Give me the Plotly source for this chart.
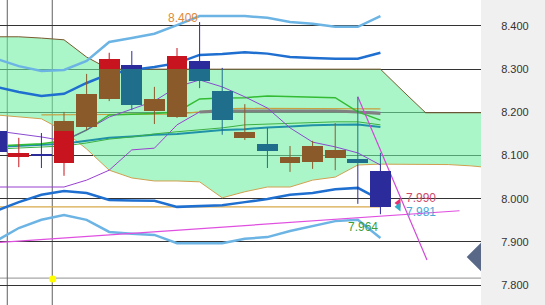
import plotly.graph_objects as go

# ---------------- data ----------------
candle_idx = list(range(18))
opens  = [8.157, 8.097, 8.104, 8.083, 8.166, 8.231, 8.310, 8.203, 8.189, 8.319, 8.249, 8.141, 8.127, 8.083, 8.085, 8.094, 8.092, 8.064]
highs  = [8.171, 8.141, 8.152, 8.201, 8.289, 8.338, 8.342, 8.259, 8.349, 8.409, 8.303, 8.219, 8.164, 8.122, 8.134, 8.175, 8.236, 8.106]
lows   = [8.094, 8.073, 8.071, 8.053, 8.159, 8.226, 8.205, 8.173, 8.187, 8.256, 8.148, 8.136, 8.071, 8.062, 8.069, 8.066, 7.988, 7.964]
closes = [8.108, 8.106, 8.099, 8.180, 8.243, 8.324, 8.217, 8.231, 8.331, 8.273, 8.182, 8.155, 8.110, 8.097, 8.122, 8.113, 8.083, 7.981]

cloud_idx = list(range(23))
span_upper = [8.375, 8.375, 8.372, 8.368, 8.328, 8.300, 8.300, 8.300, 8.300, 8.300, 8.300, 8.300,
              8.300, 8.300, 8.300, 8.300, 8.300, 8.300, 8.249, 8.199, 8.199, 8.199, 8.199]
span_lower = [8.194, 8.189, 8.185, 8.157, 8.115, 8.066, 8.048, 8.041, 8.041, 8.039, 8.002, 8.016,
              8.027, 8.027, 8.043, 8.050, 8.078, 8.080, 8.080, 8.080, 8.079, 8.076, 8.071]

bb_up2 = [8.324, 8.307, 8.296, 8.298, 8.319, 8.363, 8.372, 8.382, 8.402, 8.423, 8.423, 8.423, 8.419, 8.409, 8.405, 8.398, 8.398, 8.423]
bb_up1 = [8.259, 8.247, 8.238, 8.243, 8.268, 8.289, 8.298, 8.305, 8.314, 8.333, 8.335, 8.339, 8.336, 8.328, 8.326, 8.324, 8.324, 8.338]
bb_dn1 = [7.972, 7.992, 8.009, 8.018, 8.013, 7.997, 7.996, 7.995, 7.981, 7.983, 7.985, 7.992, 7.999, 8.009, 8.013, 8.022, 8.025, 7.997]
bb_dn2 = [7.902, 7.932, 7.951, 7.962, 7.951, 7.923, 7.919, 7.916, 7.897, 7.897, 7.897, 7.907, 7.911, 7.925, 7.937, 7.948, 7.951, 7.909]

purple_a = [8.157, 8.150, 8.143, 8.134, 8.159, 8.189, 8.208, 8.226, 8.259, 8.275, 8.259, 8.236, 8.210, 8.164, 8.131, 8.120, 8.106, 8.078]
purple_b = [8.027, 8.027, 8.027, 8.027, 8.043, 8.066, 8.113, 8.117, 8.171, 8.201, 8.202, 8.203, 8.203, 8.203, 8.203, 8.203, 8.202, 8.200]
teal_ma  = [8.120, 8.122, 8.124, 8.127, 8.134, 8.141, 8.144, 8.148, 8.150, 8.155, 8.159, 8.161, 8.165, 8.167, 8.170, 8.171, 8.172, 8.166]
green_ma = [8.115, 8.117, 8.120, 8.122, 8.129, 8.138, 8.143, 8.150, 8.155, 8.159, 8.164, 8.171, 8.173, 8.175, 8.177, 8.178, 8.178, 8.171]
green_fast = [8.122, 8.124, 8.127, 8.134, 8.159, 8.194, 8.196, 8.197, 8.201, 8.231, 8.233, 8.234, 8.238, 8.237, 8.236, 8.234, 8.201, 8.182]

gray_idx = list(range(9, 18))
gray_line = [8.201, 8.203, 8.203, 8.203, 8.203, 8.203, 8.203, 8.201, 8.197]
tan_idx = list(range(2, 18))
tan_line = [8.194, 8.194, 8.194, 8.195, 8.196, 8.196, 8.196, 8.201, 8.208, 8.209, 8.209, 8.209, 8.209, 8.209, 8.209, 8.208]

trend_x = [0, 20.5]
trend_y = [7.898, 7.972]
steep_x = [16, 19.06]
steep_y = [8.236, 7.858]

bid_price = 7.981
ask_price = 7.990
high_price = 8.409
low_price = 7.964
ref_level = [7.816]
session_marks = [0.49, 2.48]
dot_x, dot_y = [2.5], [7.814]
marker_right = [21.45], [7.865]

y_ticks = [7.8, 7.9, 8.0, 8.1, 8.2, 8.3, 8.4]
y_labels = ["7.800", "7.900", "8.000", "8.100", "8.200", "8.300", "8.400"]
x_range = [0.168, 21.45]
y_range = [7.7537, 8.4602]

# ---------------- colours ----------------
C_BULL_OUT = "#c8141e"
C_BULL_IN = "#8b5a2b"
C_BEAR_OUT = "#2b2b9c"
C_BEAR_IN = "#1f6e8c"

fig = go.Figure()

# cloud
fig.add_trace(go.Scatter(x=cloud_idx, y=span_upper, mode="lines",
                         line=dict(color="#7a5a30", width=1), hoverinfo="skip", zorder=0))
fig.add_trace(go.Scatter(x=cloud_idx, y=span_lower, mode="lines", fill="tonexty",
                         fillcolor="rgba(110,240,160,0.58)",
                         line=dict(color="#d0a050", width=1), hoverinfo="skip", zorder=0))

def line(x, y, color, width):
    fig.add_trace(go.Scatter(x=x, y=y, mode="lines", line=dict(color=color, width=width),
                             hoverinfo="skip", zorder=1))

line(candle_idx, [bid_price] * len(candle_idx), "#d8a848", 1.2)
line(tan_idx, tan_line, "#c8a040", 1.2)
line(candle_idx, purple_b, "#9b3fd1", 1)
line(gray_idx, gray_line, "#808080", 3)
line(candle_idx, teal_ma, "#1f92a8", 2)
line(candle_idx, green_ma, "#3cb043", 1)
line(candle_idx, green_fast, "#33bb33", 1.5)
line(candle_idx, purple_a, "#8a4ad0", 1)
line(candle_idx, bb_up2, "#6cb4e4", 2.5)
line(candle_idx, bb_up1, "#1f6fd0", 2.5)
line(candle_idx, bb_dn1, "#1f6fd0", 2.5)
line(candle_idx, bb_dn2, "#6cb4e4", 2.5)
line(trend_x, trend_y, "#e050e0", 1.2)
line(steep_x, steep_y, "#d048d8", 1.2)

# candles split by cloud
def split(lo_v, hi_v, c_lo, c_hi):
    segs = []
    if lo_v < c_lo:
        segs.append((lo_v, min(hi_v, c_lo), False))
    a, b = max(lo_v, c_lo), min(hi_v, c_hi)
    if b > a:
        segs.append((a, b, True))
    if hi_v > c_hi:
        segs.append((max(lo_v, c_hi), hi_v, False))
    return segs

groups = {}
wicks = {}
for i in candle_idx:
    o, h, l, c = opens[i], highs[i], lows[i], closes[i]
    bull = c >= o
    c_lo = min(span_upper[i], span_lower[i])
    c_hi = max(span_upper[i], span_lower[i])
    for (b0, b1, inside) in split(min(o, c), max(o, c), c_lo, c_hi):
        col = (C_BULL_IN if inside else C_BULL_OUT) if bull else (C_BEAR_IN if inside else C_BEAR_OUT)
        g = groups.setdefault(col, ([], [], []))
        g[0].append(i); g[1].append(b0); g[2].append(b1 - b0)
    for (w0, w1, inside) in split(l, h, c_lo, c_hi):
        col = (C_BULL_IN if inside else C_BULL_OUT) if bull else (C_BEAR_IN if inside else C_BEAR_OUT)
        w = wicks.setdefault(col, ([], []))
        w[0].extend([i, i, None]); w[1].extend([w0, w1, None])

for col, (wx, wy) in wicks.items():
    fig.add_trace(go.Scatter(x=wx, y=wy, mode="lines", line=dict(color=col, width=1),
                             hoverinfo="skip", zorder=2))
for col, (bx, bb, bh) in groups.items():
    fig.add_trace(go.Bar(x=bx, base=bb, y=bh, width=0.92, marker=dict(color=col, line=dict(width=0)),
                         hoverinfo="skip", zorder=3))

# markers
last_x = candle_idx[-1] + 0.8
fig.add_trace(go.Scatter(x=[last_x], y=[ask_price], mode="markers",
                         marker=dict(symbol="triangle-left", size=8, color="#e83070"), zorder=4))
fig.add_trace(go.Scatter(x=[last_x], y=[bid_price], mode="markers",
                         marker=dict(symbol="triangle-left", size=8, color="#30b0c8"), zorder=4))
fig.add_trace(go.Scatter(x=dot_x, y=dot_y, mode="markers",
                         marker=dict(size=7, color="#ffff00", line=dict(width=0)), zorder=4))
fig.add_trace(go.Scatter(x=marker_right[0], y=marker_right[1], mode="markers", cliponaxis=True,
                         marker=dict(symbol="diamond", size=22, color="#5a6888", line=dict(width=0)), zorder=4))

# reference lines
shapes = []
for lv in ref_level:
    shapes.append(dict(type="line", xref="paper", x0=0, x1=1, yref="y", y0=lv, y1=lv,
                       line=dict(color="#909090", width=1), layer="below"))
for sx in session_marks:
    shapes.append(dict(type="line", xref="x", x0=sx, x1=sx, yref="paper", y0=0, y1=1,
                       line=dict(color="#606060", width=1), layer="below"))

afont = "Liberation Sans, Arial, sans-serif"
annotations = [
    dict(x=9 - 0.73, y=high_price + 0.0095, text=f"{high_price:.3f}", showarrow=False,
         font=dict(family=afont, size=12, color="#e08a3a"), xanchor="center", yanchor="middle"),
    dict(x=16.23, y=low_price - 0.0296, text=f"{low_price:.3f}", showarrow=False,
         font=dict(family=afont, size=12, color="#3a9e3a"), xanchor="center", yanchor="middle"),
    dict(x=18.04, y=ask_price + 0.0105, text=f"{ask_price:.3f}", showarrow=False,
         font=dict(family=afont, size=12, color="#d04a6a"), xanchor="left", yanchor="middle"),
    dict(x=18.04, y=bid_price - 0.0115, text=f"{bid_price:.3f}", showarrow=False,
         font=dict(family=afont, size=12, color="#4aa8d8"), xanchor="left", yanchor="middle"),
]

fig.update_layout(
    width=545, height=305, autosize=False,
    margin=dict(l=0, r=64, t=0, b=0, pad=0),
    paper_bgcolor="#f0f0f0", plot_bgcolor="#ffffff",
    showlegend=False, barmode="overlay", bargap=0,
    shapes=shapes, annotations=annotations,
    xaxis=dict(range=x_range, showgrid=False, zeroline=False, showticklabels=False,
               showline=False, fixedrange=True),
    yaxis=dict(range=y_range, side="right", tickvals=y_ticks, ticktext=y_labels,
               showgrid=True, gridcolor="#333333", gridwidth=1, zeroline=False,
               showline=True, linecolor="#000000", linewidth=1, ticks="",
               ticklabelstandoff=17,
               tickfont=dict(family="Liberation Sans Narrow, Arial Narrow, Liberation Sans, sans-serif",
                             size=11, color="#333333")),
)

fig.write_html("out.html", config={"displayModeBar": False})
